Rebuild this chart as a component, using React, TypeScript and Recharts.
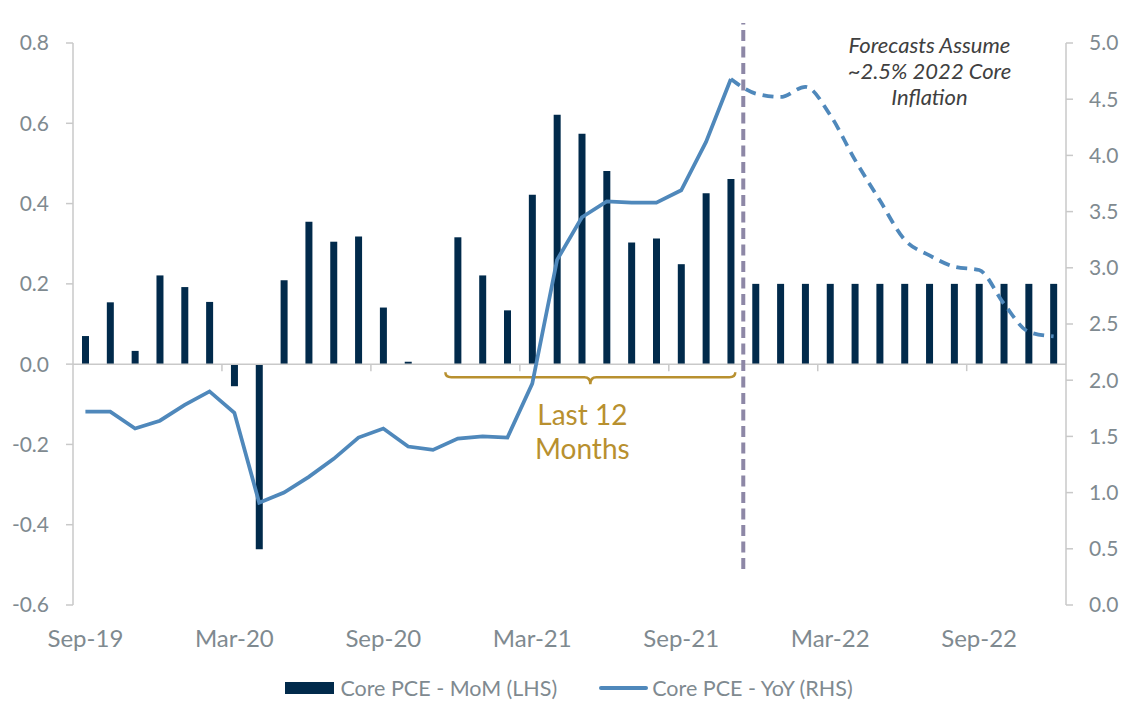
import React from 'react';
import { ComposedChart, Bar, Line, XAxis, YAxis, ReferenceLine, ReferenceArea, ReferenceDot, Legend } from 'recharts';

const months = [
  'Sep-19', 'Oct-19', 'Nov-19', 'Dec-19', 'Jan-20', 'Feb-20', 'Mar-20', 'Apr-20', 'May-20', 'Jun-20',
  'Jul-20', 'Aug-20', 'Sep-20', 'Oct-20', 'Nov-20', 'Dec-20', 'Jan-21', 'Feb-21', 'Mar-21', 'Apr-21',
  'May-21', 'Jun-21', 'Jul-21', 'Aug-21', 'Sep-21', 'Oct-21', 'Nov-21', 'Dec-21', 'Jan-22', 'Feb-22',
  'Mar-22', 'Apr-22', 'May-22', 'Jun-22', 'Jul-22', 'Aug-22', 'Sep-22', 'Oct-22', 'Nov-22', 'Dec-22',
];

// Core PCE month-over-month, % (LHS)
const coreMoM = [
  0.07, 0.154, 0.033, 0.221, 0.192, 0.155, -0.055, -0.461, 0.209, 0.355,
  0.305, 0.318, 0.141, 0.006, 0.0, 0.316, 0.221, 0.134, 0.422, 0.621,
  0.574, 0.481, 0.303, 0.313, 0.249, 0.426, 0.461, 0.2, 0.2, 0.2,
  0.2, 0.2, 0.2, 0.2, 0.2, 0.2, 0.2, 0.2, 0.2, 0.2,
];

// Core PCE year-over-year, % (RHS) - actuals Sep-19 .. Nov-21
const yoyActual = [
  1.72, 1.72, 1.57, 1.64, 1.78, 1.9, 1.71, 0.91, 1.0, 1.14,
  1.3, 1.49, 1.57, 1.41, 1.38, 1.48, 1.5, 1.49, 1.97, 3.07,
  3.45, 3.59, 3.58, 3.58, 3.69, 4.12, 4.68,
];

// forecast Dec-21 .. Dec-22
const yoyForecast = [4.55, 4.52, 4.61, 4.36, 3.96, 3.6, 3.25, 3.11, 3.01, 2.98, 2.68, 2.43, 2.39];

const leftTicks = [-0.6, -0.4, -0.2, 0, 0.2, 0.4, 0.6, 0.8];
const rightTicks = [0, 0.5, 1, 1.5, 2, 2.5, 3, 3.5, 4, 4.5, 5];

const lastActual = yoyActual.length - 1;

const data = months.map((month, i) => ({
  month,
  mom: coreMoM[i],
  yoy: i <= lastActual ? yoyActual[i] : null,
  forecast: i === lastActual ? yoyActual[i] : i > lastActual ? yoyForecast[i - lastActual - 1] : null,
}));

const FONT = 'Lato, "Noto Sans", sans-serif';
const GREY_TEXT = '#7f8a90';
const AXIS = '#c9c9c9';
const NAVY = '#012a4b';
const BLUE = '#4f88bb';
const GOLD = '#b8902f';

const MonthTick = (props: any) => {
  const { x, y, payload } = props;
  return (
    <text x={x} y={y} dy={34} textAnchor="middle" fill={GREY_TEXT} fontSize={24} fontFamily={FONT}>
      {payload.value}
    </text>
  );
};

// zero line acting as category axis, tick marks between categories every 6 months
const ZeroAxis = (props: any) => {
  const { x1, x2, y1 } = props;
  const step = (x2 - x1) / months.length;
  return (
    <g>
      <line x1={x1} x2={x2} y1={y1} y2={y1} stroke={AXIS} strokeWidth={1.5} />
      {months.map((m, i) =>
        i > 0 && i % 6 === 0 ? (
          <line key={m} x1={x1 + i * step} x2={x1 + i * step} y1={y1} y2={y1 + 7} stroke={AXIS} strokeWidth={1.5} />
        ) : null
      )}
    </g>
  );
};

const ForecastDivider = (props: any) => {
  const { x1, y1, y2 } = props;
  return <line x1={x1} x2={x1} y1={y1 - 36} y2={y2 - 20} stroke="#8d87a6" strokeWidth={4} strokeDasharray="11 5.5" />;
};

const Brace = (props: any) => {
  const { x, y, width, height } = props;
  const left = x;
  const right = x + width - 8;
  const mid = (left + right) / 2;
  const ym = y + 5;
  const tip = y + height;
  const d = `M${left},${y} Q${left},${ym} ${left + 6},${ym} L${mid - 6},${ym} Q${mid},${ym} ${mid},${tip} Q${mid},${ym} ${mid + 6},${ym} L${right - 6},${ym} Q${right},${ym} ${right},${y}`;
  return (
    <g>
      <path d={d} fill="none" stroke={GOLD} strokeWidth={2.5} />
      <text x={mid - 8} y={y + 53} textAnchor="middle" fill={GOLD} fontSize={28} fontFamily={FONT}>Last 12</text>
      <text x={mid - 8} y={y + 87} textAnchor="middle" fill={GOLD} fontSize={28} fontFamily={FONT}>Months</text>
    </g>
  );
};

const ForecastNote = (props: any) => {
  const { cx, cy } = props;
  const lines = ['Forecasts Assume', '~2.5% 2022 Core', 'Inflation'];
  return (
    <g>
      {lines.map((l, i) => (
        <text key={l} x={cx} y={cy + 10 + i * 26} textAnchor="middle" fill="#404040" fontSize={22} fontStyle="italic" fontFamily={FONT}>
          {l}
        </text>
      ))}
    </g>
  );
};

const LegendContent = () => (
  <div style={{ display: 'flex', justifyContent: 'center', alignItems: 'center', height: 24, fontFamily: FONT, fontSize: 21.5, color: GREY_TEXT }}>
    <span style={{ display: 'inline-block', width: 49, height: 12, background: NAVY, marginRight: 6 }} />
    <span>Core PCE - MoM (LHS)</span>
    <span style={{ display: 'inline-block', width: 49, height: 4, borderRadius: 2, background: BLUE, marginLeft: 42, marginRight: 4 }} />
    <span>Core PCE - YoY (RHS)</span>
  </div>
);

export default function App() {
  return (
    <div style={{ position: 'absolute', left: 0, top: 0, width: 1125, height: 704, background: '#fff' }}>
      <ComposedChart width={1125} height={704} data={data} margin={{ top: 43, right: 0, bottom: 4, left: 13 }}>
        <XAxis
          dataKey="month"
          xAxisId="x"
          axisLine={false}
          tickLine={false}
          interval={5}
          height={71}
          tick={<MonthTick />}
        />
        <YAxis
          yAxisId="left"
          domain={[-0.6, 0.8]}
          ticks={leftTicks}
          width={60}
          tickFormatter={(v: number) => v.toFixed(1)}
          axisLine={{ stroke: AXIS, strokeWidth: 1.5 }}
          tickLine={{ stroke: AXIS, strokeWidth: 1.5 }}
          tickSize={7}
          tickMargin={17}
          tick={{ fill: GREY_TEXT, fontSize: 21, fontFamily: FONT }}
        />
        <YAxis
          yAxisId="right"
          orientation="right"
          domain={[0, 5]}
          ticks={rightTicks}
          width={59}
          tickFormatter={(v: number) => v.toFixed(1)}
          axisLine={{ stroke: AXIS, strokeWidth: 1.5 }}
          tickLine={{ stroke: AXIS, strokeWidth: 1.5 }}
          tickSize={7}
          tickMargin={16}
          tick={{ fill: GREY_TEXT, fontSize: 21, fontFamily: FONT, textAnchor: 'start' }}
        />
        <ReferenceLine xAxisId="x" yAxisId="left" y={0} shape={<ZeroAxis />} />
        <Bar xAxisId="x" yAxisId="left" dataKey="mom" name="Core PCE - MoM (LHS)" fill={NAVY} barSize={7} isAnimationActive={false} />
        <Line
          xAxisId="x"
          yAxisId="right"
          type="linear"
          dataKey="yoy"
          name="Core PCE - YoY (RHS)"
          stroke={BLUE}
          strokeWidth={3.75}
          dot={false}
          activeDot={false}
          isAnimationActive={false}
        />
        <Line
          xAxisId="x"
          yAxisId="right"
          type="monotone"
          dataKey="forecast"
          stroke={BLUE}
          strokeWidth={3.75}
          strokeDasharray="11 7"
          dot={false}
          activeDot={false}
          legendType="none"
          isAnimationActive={false}
        />
        <ReferenceLine xAxisId="x" yAxisId="left" x="Nov-21" position="end" shape={<ForecastDivider />} ifOverflow="visible" />
        <ReferenceArea xAxisId="x" yAxisId="left" x1="Dec-20" x2="Nov-21" y1={-0.02} y2={-0.05} shape={<Brace />} ifOverflow="visible" />
        <ReferenceDot xAxisId="x" yAxisId="right" x="Jul-22" y={5} shape={<ForecastNote />} ifOverflow="visible" />
        <Legend verticalAlign="bottom" content={<LegendContent />} />
      </ComposedChart>
    </div>
  );
}
